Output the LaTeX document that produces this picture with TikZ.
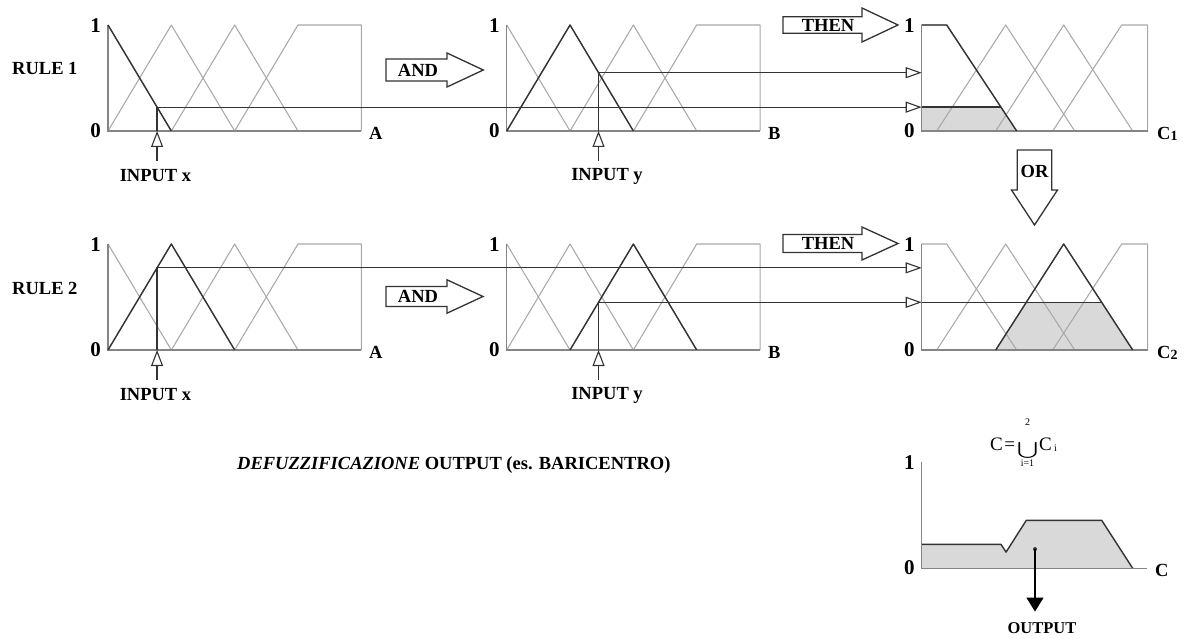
\documentclass[tikz,border=0pt]{standalone}
\usepackage{fontspec}
\setmainfont{Liberation Serif}
\usetikzlibrary{arrows.meta}
\definecolor{litec}{HTML}{A8A8A8}
\definecolor{darkc}{HTML}{333333}
\definecolor{axc}{HTML}{858585}
\definecolor{shadec}{HTML}{D9D9D9}
\tikzset{
  lite/.style={draw=litec, line width=1.05pt, line join=round},
  dk/.style={draw=darkc, line width=1.4pt, line join=round},
  axisl/.style={draw=axc, line width=1.3pt},
  conn/.style={draw=darkc, line width=1.2pt, -{Triangle[open, length=16pt, width=11pt, line width=1.1pt]}},
  inarr/.style={draw=darkc, line width=1.2pt, -{Triangle[open, length=16pt, width=12pt, line width=1.1pt]}},
  lbl/.style={font=\fontsize{18.5}{20}\selectfont\bfseries, inner sep=0pt},
  num/.style={font=\fontsize{21}{22}\selectfont\bfseries, inner sep=0pt, anchor=east},
  frm/.style={font=\fontsize{19}{20}\selectfont, inner sep=0pt},
  frms/.style={font=\fontsize{10}{10}\selectfont, inner sep=0pt},
  bigarrow/.style={draw=darkc, line width=1.3pt, fill=white, line join=miter},
}
\newcommand\ABsets{%
  \draw[lite] (0,1)--(1,0);
  \draw[lite] (0,0)--(1,1)--(2,0);
  \draw[lite] (1,0)--(2,1)--(3,0);
  \draw[lite] (2,0)--(3,1)--(4,1)--(4,0);
  \draw[axisl] (0,1)--(0,0)--(4,0);
}
\newcommand\Csets{%
  \draw[lite] (0,1)--(25,1)--(95,0);
  \draw[lite] (15,0)--(84,1)--(153,0);
  \draw[lite] (74,0)--(142,1)--(211,0);
  \draw[lite] (131,0)--(200,1)--(226,1)--(226,0);
  \draw[axisl] (0,1)--(0,0)--(226,0);
}
% #1 x0, #2 xb, #3 xtip, #4 yc, #5 half body, #6 half head
\newcommand\rarrowshape[6]{%
  \draw[bigarrow] (#1,#4-#5)--(#2,#4-#5)--(#2,#4-#6)--(#3,#4)--(#2,#4+#6)--(#2,#4+#5)--(#1,#4+#5)--cycle;
}
\begin{document}
\begin{tikzpicture}[x=1pt,y=-1pt]
\useasboundingbox (0,0) rectangle (1184,639);

% ---------- RULE 1 : A ----------
\begin{scope}[shift={(108,131)}, xscale=63.33, yscale=-106]
  \ABsets
  \draw[dk] (0,1)--(1,0);
  \coordinate (x1in) at (0.775,0);
  \coordinate (x1pt) at (0.775,0.225);
\end{scope}
% ---------- RULE 1 : B ----------
\begin{scope}[shift={(506.7,131)}, xscale=63.33, yscale=-106]
  \ABsets
  \draw[dk] (0,0)--(1,1)--(2,0);
  \coordinate (y1in) at (1.45,0);
  \coordinate (y1pt) at (1.45,0.55);
\end{scope}
% ---------- RULE 1 : C1 ----------
\begin{scope}[shift={(921.7,131)}, yscale=-106]
  \fill[shadec] (0,0)--(0,0.225)--(79.25,0.225)--(95,0)--cycle;
  \Csets
  \draw[dk] (0,1)--(25,1)--(95,0);
  \draw[dk] (0,0.225)--(79.25,0.225);
  \coordinate (c1a) at (0,0.225);
  \coordinate (c1b) at (0,0.55);
\end{scope}

% ---------- RULE 2 : A ----------
\begin{scope}[shift={(108,350)}, xscale=63.33, yscale=-106]
  \ABsets
  \draw[dk] (0,0)--(1,1)--(2,0);
  \coordinate (x2in) at (0.775,0);
  \coordinate (x2pt) at (0.775,0.775);
\end{scope}
% ---------- RULE 2 : B ----------
\begin{scope}[shift={(506.7,350)}, xscale=63.33, yscale=-106]
  \ABsets
  \draw[dk] (1,0)--(2,1)--(3,0);
  \coordinate (y2in) at (1.45,0);
  \coordinate (y2pt) at (1.45,0.45);
\end{scope}
% ---------- RULE 2 : C2 ----------
\begin{scope}[shift={(921.7,350)}, yscale=-106]
  \fill[shadec] (74,0)--(104.6,0.45)--(180,0.45)--(211,0)--cycle;
  \Csets
  \draw[dk] (74,0)--(142,1)--(211,0);
  \draw[dk] (0,0.45)--(180,0.45);
  \coordinate (c2a) at (0,0.775);
  \coordinate (c2b) at (0,0.45);
\end{scope}

% ---------- connectors ----------
\draw[conn] (x1in) -- (x1pt) -- (c1a);
\draw[conn] (y1in) -- (y1pt) -- (c1b);
\draw[conn] (x2in) -- (x2pt) -- (c2a);
\draw[conn] (y2in) -- (y2pt) -- (c2b);

\draw[inarr] ([yshift=-30pt]x1in) -- (x1in);
\draw[inarr] ([yshift=-30pt]y1in) -- (y1in);
\draw[inarr] ([yshift=-30pt]x2in) -- (x2in);
\draw[inarr] ([yshift=-30pt]y2in) -- (y2in);

\node[lbl] (inx1) at (155.5,176) {INPUT x};
\node[lbl] (iny1) at (607,176) {INPUT y};
\node[lbl] (inx2) at (155.5,395) {INPUT x};
\node[lbl] (iny2) at (607,395) {INPUT y};

% ---------- rule labels ----------
\node[lbl, anchor=west] (rule1) at (12,68.3) {RULE 1};
\node[lbl, anchor=west] (rule2) at (12,288.3) {RULE 2};

% ---------- axis numbers ----------
\node[num] (a1one) at (101,26) {1};
\node[num] (a1zero) at (101,131) {0};
\node[num] (b1one) at (499.7,26) {1};
\node[num] (b1zero) at (499.7,131) {0};
\node[num] (c1one) at (914.7,26) {1};
\node[num] (c1zero) at (914.7,131) {0};
\node[num] (a2one) at (101,245) {1};
\node[num] (a2zero) at (101,350) {0};
\node[num] (b2one) at (499.7,245) {1};
\node[num] (b2zero) at (499.7,350) {0};
\node[num] (c2one) at (914.7,245) {1};
\node[num] (c2zero) at (914.7,350) {0};
\node[num] (oone) at (914.7,463) {1};
\node[num] (ozero) at (914.7,568) {0};

% ---------- axis names ----------
\node[lbl, anchor=base west] (lA1) at (369,139.5) {A};
\node[lbl, anchor=base west] (lB1) at (768,139.5) {B};
\node[lbl, anchor=base west] (lC1) at (1157,139.5) {C\raisebox{-1pt}{\fontsize{14}{14}\selectfont 1}};
\node[lbl, anchor=base west] (lA2) at (369,358.5) {A};
\node[lbl, anchor=base west] (lB2) at (768,358.5) {B};
\node[lbl, anchor=base west] (lC2) at (1157,358.5) {C\raisebox{-1pt}{\fontsize{14}{14}\selectfont 2}};
\node[lbl, anchor=base west] (lC) at (1155,576) {C};

% ---------- block arrows ----------
\rarrowshape{783}{862}{898}{25}{8.3}{17}
\node[lbl] (then1) at (828,25) {THEN};
\rarrowshape{783}{862}{898}{243.5}{9}{16.5}
\node[lbl] (then2) at (828,243.5) {THEN};
\rarrowshape{386}{447}{483.3}{70}{11}{17}
\node[lbl] (and1) at (418,70) {AND};
\rarrowshape{386}{447}{483}{296.5}{10}{16.7}
\node[lbl] (and2) at (418,296.5) {AND};
\draw[bigarrow] (1017.3,150)--(1051.7,150)--(1051.7,190)--(1057.5,190)--(1034.5,225)--(1011.5,190)--(1017.3,190)--cycle;
\node[lbl] (orl) at (1034.5,171) {OR};

% ---------- output ----------
\begin{scope}[shift={(921.7,568.3)}, yscale=-106.6]
  \fill[shadec] (0,0)--(0,0.225)--(79.25,0.225)--(84.35,0.152)--(104.6,0.45)--(180,0.45)--(211,0)--cycle;
  \draw[dk] (0,0.225)--(79.25,0.225)--(84.35,0.152)--(104.6,0.45)--(180,0.45)--(211,0);
  \draw[axisl] (0,1)--(0,0)--(225,0);
  \coordinate (cg) at (113.3,0.18);
  \coordinate (outp) at (113.3,-0.406);
\end{scope}
\fill[darkc] (cg) circle (2pt);
\draw[draw=black, line width=1.2pt, -{Triangle[length=14pt, width=17pt]}] (cg) -- (outp);
\node[font=\fontsize{16.5}{18}\selectfont\bfseries, inner sep=0pt] (outl) at (1042,628) {OUTPUT};

% ---------- formula C = U_{i=1}^{2} C_i ----------
\node[frm, anchor=west] (fC) at (990,444) {C\hspace{1.5pt}=};
\node[inner sep=0pt] (fcup) at (1027.5,450) {\resizebox*{21pt}{16pt}{$\bigcup$}};
\node[frms] (fup) at (1027.5,422) {2};
\node[frms] (flow) at (1027.5,463.5) {i=1};
\node[frm, anchor=west] (fCi) at (1039,444) {C};
\node[frms] (fi) at (1055.5,448) {i};

\node[lbl, anchor=west] (defuzz) at (237,465) {\textit{DEFUZZIFICAZIONE} OUTPUT (es. BARICENTRO)};
\end{tikzpicture}
\end{document}
